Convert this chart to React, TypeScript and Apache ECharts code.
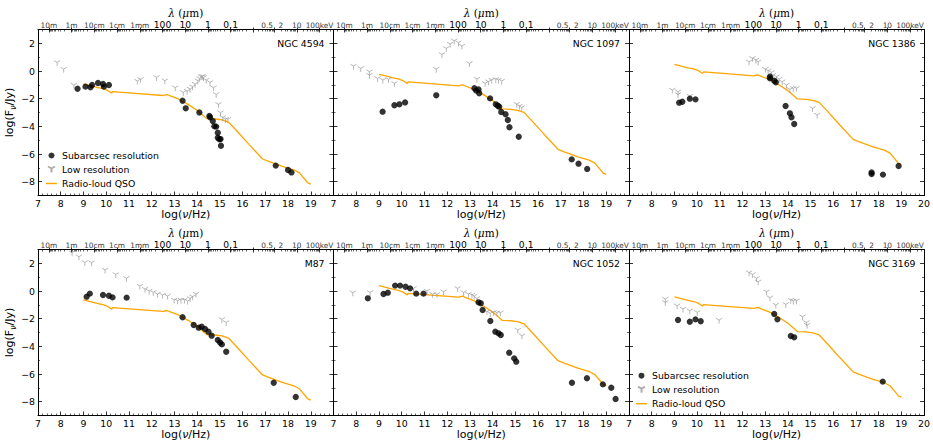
import React, { useEffect, useRef } from 'react';
import * as echarts from 'echarts';

// ---------------- DATA ----------------
const panelNames = ['NGC 4594', 'NGC 1097', 'NGC 1386', 'M87', 'NGC 1052', 'NGC 3169'];

const ngc4594Sub = [[8.74,-1.28],[9.09,-1.13],[9.31,-1.18],[9.38,-1.01],[9.64,-0.87],[9.86,-0.94],[9.90,-1.13],[10.12,-1.01],[13.36,-2.15],[13.50,-2.70],[14.10,-3.00],[14.54,-3.25],[14.57,-3.35],[14.69,-3.62],[14.76,-4.00],[14.84,-4.02],[14.91,-4.46],[14.91,-4.82],[14.98,-4.94],[15.03,-4.92],[15.05,-5.40],[17.46,-6.84],[18.00,-7.16],[18.15,-7.33]];
const ngc4594Low = [[7.84,0.63],[8.13,0.14],[8.58,-1.01],[11.37,-0.72],[11.51,-0.60],[12.21,-0.46],[12.58,-0.70],[13.04,-1.20],[13.39,-1.54],[13.56,-1.45],[13.69,-1.30],[13.80,-1.13],[13.91,-0.94],[14.03,-0.70],[14.10,-0.53],[14.18,-0.41],[14.24,-0.38],[14.28,-0.46],[14.40,-0.65],[14.57,-0.82],[14.72,-1.20],[14.84,-1.69],[14.94,-2.41],[15.03,-3.01],[15.13,-3.35],[15.25,-3.49],[15.35,-3.49]];

const ngc1097Sub = [[9.16,-2.94],[9.68,-2.48],[9.90,-2.41],[10.15,-2.27],[11.52,-1.76],[13.20,-1.25],[13.28,-1.42],[13.38,-1.33],[13.41,-1.61],[13.89,-1.98],[14.14,-2.41],[14.23,-2.51],[14.29,-2.58],[14.38,-2.96],[14.57,-3.13],[14.67,-3.54],[14.74,-4.07],[15.15,-4.75],[17.48,-6.39],[17.78,-6.70],[18.16,-7.08]];
const ngc1097Low = [[7.88,0.36],[8.20,0.19],[8.58,-0.05],[8.58,-0.29],[8.94,-0.53],[9.17,-0.65],[9.42,-0.60],[9.68,-0.89],[11.52,0.14],[11.77,1.20],[11.96,1.64],[12.13,1.95],[12.31,2.19],[12.50,2.05],[12.65,1.81],[12.98,0.55],[13.31,-0.58],[13.67,-0.89],[13.82,-0.77],[13.96,-0.65],[14.14,-0.60],[14.26,-0.65],[14.40,-0.72],[15.06,-2.39],[15.18,-2.53],[15.28,-2.63]];

const ngc1386Sub = [[9.21,-2.29],[9.35,-2.22],[9.68,-2.00],[9.93,-2.05],[13.21,-0.41],[13.21,-0.53],[13.40,-0.70],[13.47,-0.82],[13.90,-2.53],[14.09,-3.06],[14.16,-3.35],[14.28,-3.83],[17.69,-7.33],[17.69,-7.45],[18.19,-7.49],[18.88,-6.87]];
const ngc1386Low = [[8.91,-1.37],[9.16,-1.49],[9.16,-1.69],[9.68,-1.81],[12.29,0.67],[12.44,0.92],[12.59,0.80],[12.69,0.67],[13.01,0.14],[13.13,0.02],[13.28,-0.10],[13.35,-0.29],[13.50,-0.41],[13.62,-0.58],[13.75,-0.77],[13.94,-1.01],[14.09,-1.33],[14.24,-1.25],[14.38,-1.25],[15.09,-2.70],[15.29,-3.18]];

const m87Sub = [[9.14,-0.41],[9.28,-0.19],[9.86,-0.29],[10.12,-0.34],[10.28,-0.46],[10.90,-0.48],[13.36,-1.90],[13.85,-2.46],[14.07,-2.65],[14.20,-2.58],[14.35,-2.75],[14.50,-2.94],[14.64,-3.23],[14.91,-3.54],[15.01,-3.73],[15.09,-3.86],[15.28,-4.39],[17.37,-6.63],[18.34,-7.66]];
const m87Low = [[8.50,2.77],[8.80,2.48],[9.06,2.07],[9.36,2.05],[9.95,1.52],[10.42,1.20],[10.89,0.92],[11.48,0.36],[11.71,0.14],[11.89,0.00],[12.07,-0.10],[12.26,-0.22],[12.48,-0.29],[12.70,-0.36],[12.99,-0.65],[13.14,-0.70],[13.29,-0.65],[13.44,-0.65],[13.58,-0.72],[13.69,-0.53],[13.80,-0.41],[13.95,-0.22],[15.09,-2.05],[15.28,-2.27]];

const ngc1052Sub = [[8.51,-0.53],[9.20,-0.22],[9.39,-0.12],[9.71,0.39],[9.93,0.39],[10.17,0.31],[10.37,0.19],[10.64,-0.19],[10.96,-0.19],[13.38,-0.82],[13.48,-0.89],[13.56,-1.37],[13.90,-2.17],[14.12,-2.94],[14.26,-3.06],[14.36,-3.18],[14.73,-4.46],[14.95,-4.87],[15.04,-5.11],[17.49,-6.63],[18.15,-6.31],[18.85,-6.75],[19.22,-6.99],[19.41,-7.81]];
const ngc1052Low = [[7.85,-0.12],[8.61,-0.10],[10.52,0.19],[11.11,0.00],[11.36,-0.24],[11.55,-0.24],[11.84,-0.05],[12.46,0.19],[12.72,-0.10],[12.94,-0.22],[13.09,-0.29],[13.19,-0.36],[13.31,-0.53],[13.75,-1.49],[13.90,-1.61],[14.04,-1.54],[14.19,-1.57],[14.34,-1.57],[15.11,-2.82],[15.29,-3.23]];

const ngc3169Sub = [[9.16,-2.10],[9.68,-2.22],[9.93,-2.05],[10.16,-2.19],[13.40,-1.66],[13.54,-2.05],[14.13,-3.25],[14.28,-3.35],[18.18,-6.55]];
const ngc3169Low = [[8.60,-0.58],[8.60,-0.82],[9.12,-1.06],[9.38,-1.30],[9.68,-1.42],[10.01,-1.54],[10.97,-2.10],[12.29,1.33],[12.44,1.20],[12.62,0.92],[12.69,0.67],[13.06,-0.05],[13.21,-0.48],[13.47,-1.01],[13.91,-0.96],[14.13,-0.65],[14.24,-0.72],[14.38,-0.70],[14.65,-1.86],[14.82,-2.27],[14.85,-2.46]];

// Radio-loud QSO template (shape shared by all panels), relative to its value at log(nu)=9
const qsoNu = [9.0,9.3,9.6,9.85,10.05,10.24,10.28,11.0,12.5,12.68,12.85,13.2,13.6,14.0,14.25,14.42,14.8,15.1,15.38,15.75,16.3,16.88,17.15,17.75,18.25,18.5,18.72,18.87,19.0];
const qsoRel = [0,-0.12,-0.25,-0.33,-0.45,-0.66,-0.55,-0.64,-0.83,-0.76,-0.88,-1.1,-1.47,-1.9,-2.25,-2.5,-2.53,-2.6,-2.75,-3.4,-4.4,-5.42,-5.6,-5.96,-6.2,-6.42,-6.85,-7.15,-7.24];
// normalisation of the template in each panel
const qsoOffset = [-0.94, -0.24, 0.48, -0.65, 0.38, -0.43];

const xTicks = [7,8,9,10,11,12,13,14,15,16,17,18,19,20];
const yTicks = [-8,-6,-4,-2,0,2];
const yMinorTicks = [-7,-5,-3,-1,1];

// top axis: wavelength / energy labels
const lambdaLabels = ['10m','1m','10cm','1cm','1mm','100','10','1','0.1','0.5','2','10','100keV'];
const LOG_C = Math.log10(2.99792458e8);          // nu = c / lambda
const LOG_KEV = Math.log10(1.602176634e-16 / 6.62607015e-34); // nu of 1 keV
const lambdaMetres = [10, 1, 0.1, 0.01, 0.001, 1e-4, 1e-5, 1e-6, 1e-7];
const energyKeV = [0.5, 2, 10, 100];

// ---------------- LAYOUT / STYLE ----------------
const FONT = 'DejaVu Sans';
const TRI = 'path://M0,0L0,10M0,0L-8.66,-5M0,0L8.66,-5';
const LINE_ICON = 'path://M0,0L20,0L20,2.6L0,2.6Z';
const BIG_TOP = new Set(['100', '10', '1', '0.1']);

function buildOption() {
  const lambdaNu = lambdaMetres.map((l) => LOG_C - Math.log10(l));
  const energyNu = energyKeV.map((e) => LOG_KEV + Math.log10(e));
  const labelNu = [...lambdaNu, ...energyNu];
  const labelBig = lambdaLabels.map((t, i) => i < lambdaNu.length && BIG_TOP.has(t));

  const topMajor: number[] = [];
  for (let n = 1; n >= -8; n--) topMajor.push(LOG_C - n);
  for (let m = 0; m <= 2; m++) topMajor.push(LOG_KEV + m);
  const topMinor: number[] = [];
  for (let n = 1; n >= -8; n--) {
    for (let k = 2; k <= 9; k++) {
      const v = LOG_C - n - Math.log10(k);
      if (v > 7.02 && v < 16.5) topMinor.push(v);
    }
  }
  for (let m = -1; m <= 2; m++) {
    for (let k = 2; k <= 9; k++) {
      const v = LOG_KEV + m + Math.log10(k);
      if (v > 16.55 && v < 19.98) topMinor.push(v);
    }
  }

  const panels = [
    { sub: ngc4594Sub, low: ngc4594Low },
    { sub: ngc1097Sub, low: ngc1097Low },
    { sub: ngc1386Sub, low: ngc1386Low },
    { sub: m87Sub, low: m87Low },
    { sub: ngc1052Sub, low: ngc1052Low },
    { sub: ngc3169Sub, low: ngc3169Low },
  ];

  const gridLefts = [38, 333.5, 629];
  const rowTops = [29.5, 249.5];
  const W = 295.5;
  const H = 166;

  const grid: any[] = [];
  const xAxis: any[] = [];
  const yAxis: any[] = [];
  const series: any[] = [];
  const graphic: any[] = [];

  const black = '#000';
  const tickLabel = { fontFamily: FONT, fontSize: 9.4, color: black };
  const noLine = { show: false, onZero: false };

  panels.forEach((p, g) => {
    const col = g % 3;
    const row = Math.floor(g / 3);
    const left = gridLefts[col];
    const top = rowTops[row];
    grid.push({ left, top, width: W, height: H });

    // bottom x axis
    xAxis.push({
      type: 'value', gridIndex: g, position: 'bottom', min: 7, max: 20, interval: 1,
      axisLine: { show: true, onZero: false, lineStyle: { color: black, width: 1 } },
      axisTick: { show: true, inside: true, length: 4, lineStyle: { color: black, width: 0.8 } },
      minorTick: { show: true, splitNumber: 5, length: 2, lineStyle: { color: black, width: 0.6 } },
      splitLine: { show: false }, minorSplitLine: { show: false },
      axisLabel: {
        show: true, margin: 3, ...tickLabel,
        formatter: (v: number) => (v === 20 && col < 2 ? '' : String(v)),
      },
      name: '{a|log(}{i|ν}{a|/Hz)}', nameLocation: 'middle', nameGap: 13,
      nameTextStyle: {
        fontFamily: FONT, fontSize: 11, color: black,
        rich: { a: { fontFamily: FONT, fontSize: 11, color: black }, i: { fontFamily: FONT, fontSize: 11, fontStyle: 'italic', color: black } },
      },
    });
    // top axis: labels + inward major ticks
    xAxis.push({
      type: 'value', gridIndex: g, position: 'top', min: 7, max: 20,
      axisLine: { show: true, onZero: false, lineStyle: { color: black, width: 1 } },
      axisTick: { show: true, inside: true, length: 3, customValues: topMajor, lineStyle: { color: black, width: 0.8 } },
      splitLine: { show: false },
      axisLabel: {
        show: true, margin: 1, customValues: labelNu,
        formatter: (v: number) => {
          let idx = -1;
          labelNu.forEach((n, i) => { if (Math.abs(n - v) < 1e-6) idx = i; });
          if (idx < 0) return '';
          return labelBig[idx] ? `{b|${lambdaLabels[idx]}}` : `{s|${lambdaLabels[idx]}}`;
        },
        rich: {
          b: { fontFamily: FONT, fontSize: 9.2, color: black },
          s: { fontFamily: FONT, fontSize: 7.4, color: '#3a3a3a' },
        },
      },
      name: '{i|λ} ({i|μ}m)', nameLocation: 'middle', nameGap: 10,
      nameTextStyle: {
        fontFamily: 'DejaVu Serif', fontSize: 10.5, color: black,
        rich: {
          i: { fontFamily: 'DejaVu Serif', fontSize: 10.5, fontStyle: 'italic', color: black },
        },
      },
    });
    // top axis: minor ticks
    xAxis.push({
      type: 'value', gridIndex: g, position: 'top', min: 7, max: 20,
      axisLine: noLine, splitLine: { show: false },
      axisTick: { show: true, inside: true, length: 2, customValues: topMinor, lineStyle: { color: black, width: 0.6 } },
      axisLabel: { show: false },
    });
    // top axis: outward part of the major ticks
    xAxis.push({
      type: 'value', gridIndex: g, position: 'top', min: 7, max: 20,
      axisLine: noLine, splitLine: { show: false },
      axisTick: { show: true, inside: false, length: 2, customValues: topMajor, lineStyle: { color: black, width: 0.8 } },
      axisLabel: { show: false },
    });

    // left y axis (major)
    yAxis.push({
      type: 'value', gridIndex: g, position: 'left', min: -9, max: 3,
      axisLine: { show: true, onZero: false, lineStyle: { color: black, width: 1 } },
      axisTick: { show: true, inside: true, length: 4, customValues: yTicks, lineStyle: { color: black, width: 0.8 } },
      splitLine: { show: false },
      axisLabel: {
        show: col === 0, margin: 3, customValues: yTicks, ...tickLabel,
        formatter: (v: number) => String(v).replace('-', '\u2212'),
      },
      name: col === 0 ? '{a|log(F}{s|ν}{a|/Jy)}' : '',
      nameLocation: 'middle', nameGap: 21, nameRotate: 90,
      nameTextStyle: {
        fontFamily: FONT, fontSize: 11, color: black,
        rich: {
          a: { fontFamily: FONT, fontSize: 11, color: black, lineHeight: 16, verticalAlign: 'middle' },
          s: { fontFamily: FONT, fontSize: 8, fontStyle: 'italic', color: black, verticalAlign: 'bottom' },
        },
      },
    });
    // left y minor
    yAxis.push({
      type: 'value', gridIndex: g, position: 'left', min: -9, max: 3,
      axisLine: noLine, splitLine: { show: false },
      axisTick: { show: true, inside: true, length: 2, customValues: yMinorTicks, lineStyle: { color: black, width: 0.6 } },
      axisLabel: { show: false },
    });
    // right y major
    yAxis.push({
      type: 'value', gridIndex: g, position: 'right', min: -9, max: 3,
      axisLine: { show: true, onZero: false, lineStyle: { color: black, width: 1 } },
      axisTick: { show: true, inside: true, length: 4, customValues: yTicks, lineStyle: { color: black, width: 0.8 } },
      splitLine: { show: false },
      axisLabel: { show: false },
    });
    // right y minor
    yAxis.push({
      type: 'value', gridIndex: g, position: 'right', min: -9, max: 3,
      axisLine: noLine, splitLine: { show: false },
      axisTick: { show: true, inside: true, length: 2, customValues: yMinorTicks, lineStyle: { color: black, width: 0.6 } },
      axisLabel: { show: false },
    });

    const xi = 4 * g;
    const yi = 4 * g;
    series.push({
      type: 'line', name: 'Radio-loud QSO', xAxisIndex: xi, yAxisIndex: yi,
      data: qsoNu.map((x, i) => [x, qsoRel[i] + qsoOffset[g]]),
      symbol: 'none', showSymbol: false,
      lineStyle: { color: '#FFA500', width: 1.3 }, itemStyle: { color: '#FFA500' },
      z: 2, silent: true,
    });
    series.push({
      type: 'scatter', name: 'Low resolution', xAxisIndex: xi, yAxisIndex: yi,
      data: p.low, symbol: TRI, symbolSize: [6.2, 5.4], symbolOffset: [0, 0.9],
      itemStyle: { color: 'rgba(0,0,0,0)', borderColor: '#9a9a9a', borderWidth: 0.9 },
      z: 3, silent: true,
    });
    series.push({
      type: 'scatter', name: 'Subarcsec resolution', xAxisIndex: xi, yAxisIndex: yi,
      data: p.sub, symbol: 'circle', symbolSize: 6.3,
      itemStyle: { color: black },
      z: 4, silent: true,
    });

    graphic.push({
      type: 'text', x: left + W - 9, y: top + 13.8, z: 10,
      style: { text: panelNames[g], fontFamily: FONT, fontSize: 9.3, fill: black, align: 'right', verticalAlign: 'middle' },
    });
  });

  const legendCommon = {
    orient: 'vertical', selectedMode: false,
    itemWidth: 11, itemHeight: 6, itemGap: 3,
    data: [
      { name: 'Subarcsec resolution' },
      { name: 'Low resolution' },
      { name: 'Radio-loud QSO', icon: LINE_ICON, itemStyle: { color: '#FFA500', borderWidth: 0 } },
    ],
    textStyle: { fontFamily: FONT, fontSize: 9.3, color: black, lineHeight: 11 },
    padding: 0,
  };

  return {
    animation: false,
    backgroundColor: '#fff',
    grid, xAxis, yAxis, series, graphic,
    legend: [
      { ...legendCommon, left: 46, top: 150 },
      { ...legendCommon, left: 636, top: 370.2 },
    ],
  };
}

export default function App() {
  const ref = useRef<HTMLDivElement>(null);
  useEffect(() => {
    document.body.style.margin = '0';
    if (!ref.current) return;
    const chart = echarts.init(ref.current, undefined, { renderer: 'svg' });
    chart.setOption(buildOption() as any);
    return () => chart.dispose();
  }, []);
  return <div ref={ref} style={{ width: 933, height: 441 }} />;
}
